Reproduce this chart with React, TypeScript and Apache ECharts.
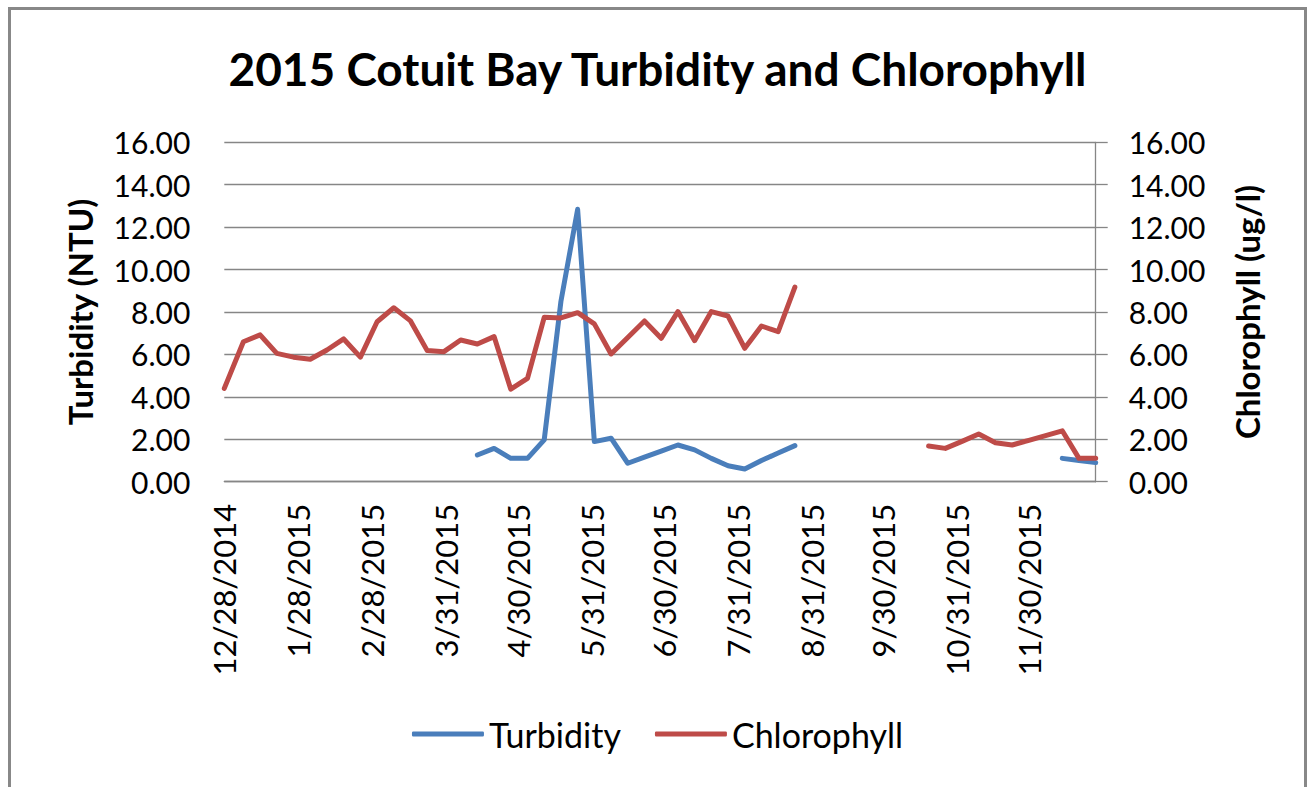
import React, { useEffect, useRef } from "react";
import * as echarts from "echarts";

const dates = [
  "12/28/2014", "1/5/2015", "1/12/2015", "1/19/2015", "1/26/2015", "2/2/2015", "2/9/2015", "2/16/2015", "2/23/2015",
  "3/2/2015", "3/9/2015", "3/16/2015", "3/23/2015", "3/30/2015", "4/6/2015", "4/13/2015", "4/20/2015", "4/27/2015",
  "5/4/2015", "5/11/2015", "5/18/2015", "5/25/2015", "6/1/2015", "6/8/2015", "6/15/2015", "6/22/2015", "6/29/2015",
  "7/6/2015", "7/13/2015", "7/20/2015", "7/27/2015", "8/3/2015", "8/10/2015", "8/17/2015", "8/24/2015", "8/31/2015",
  "9/7/2015", "9/14/2015", "9/21/2015", "9/28/2015", "10/5/2015", "10/12/2015", "10/19/2015", "10/26/2015",
  "11/2/2015", "11/9/2015", "11/16/2015", "11/23/2015", "11/30/2015", "12/7/2015", "12/14/2015", "12/21/2015", "12/28/2015",
];

const turbidity: (number | null)[] = [
  null, null, null, null, null, null, null, null, null,
  null, null, null, null, null, null, 1.26, 1.57, 1.10,
  1.10, 1.97, 8.5, 12.84, 1.89, 2.05, 0.87, 1.16, 1.44,
  1.73, 1.50, 1.10, 0.75, 0.60, 1.00, 1.35, 1.70, null,
  null, null, null, null, null, null, null, null,
  null, null, null, null, null, null, 1.10, 1.00, 0.90,
];

const chlorophyll: (number | null)[] = [
  4.40, 6.60, 6.92, 6.05, 5.87, 5.77, 6.21, 6.73, 5.87,
  7.54, 8.20, 7.58, 6.18, 6.13, 6.68, 6.49, 6.84, 4.36,
  4.87, 7.75, 7.72, 7.97, 7.44, 6.02, 6.80, 7.58, 6.76,
  8.02, 6.65, 8.02, 7.81, 6.29, 7.34, 7.07, 9.17, null,
  null, null, null, null, null, null, 1.68, 1.57,
  1.90, 2.25, 1.84, 1.73, 1.95, 2.17, 2.40, 1.10, 1.10,
];

const tickLabels = [
  "12/28/2014", "1/28/2015", "2/28/2015", "3/31/2015", "4/30/2015", "5/31/2015",
  "6/30/2015", "7/31/2015", "8/31/2015", "9/30/2015", "10/31/2015", "11/30/2015",
];

const yTicks = [0, 2, 4, 6, 8, 10, 12, 14, 16];

const toDay = (s: string) => {
  const [m, d, y] = s.split("/").map(Number);
  return Math.round((Date.UTC(y, m - 1, d) - Date.UTC(2014, 11, 28)) / 86400000);
};

const FONT = "Lato, 'Open Sans', sans-serif";
const GRID = "#868686";

export default function App() {
  const ref = useRef<HTMLDivElement>(null);
  useEffect(() => {
    if (!ref.current) return;
    const chart = echarts.init(ref.current, undefined, { renderer: "svg" });
    const labelDays = tickLabels.map(toDay);
    const labelMap: Record<number, string> = {};
    labelDays.forEach((d, i) => (labelMap[d] = tickLabels[i]));
    const xMax = toDay(dates[dates.length - 1]);
    const yAxisCommon = {
      type: "value",
      min: yTicks[0],
      max: yTicks[yTicks.length - 1],
      interval: yTicks[1] - yTicks[0],
      nameLocation: "middle",
      nameRotate: 90,
      nameTextStyle: { fontFamily: FONT, fontWeight: "bold", fontSize: 33, color: "#000" },
    };
    chart.setOption({
      animation: false,
      backgroundColor: "#fff",
      title: {
        text: "2015 Cotuit Bay Turbidity and Chlorophyll",
        left: "center",
        top: 30,
        textStyle: { fontFamily: FONT, fontWeight: "bold", fontSize: 46, color: "#000" },
      },
      legend: {
        bottom: 38,
        left: "center",
        itemWidth: 72,
        itemHeight: 5,
        itemGap: 34,
        icon: "roundRect",
        textStyle: { fontFamily: FONT, fontSize: 34, color: "#000" },
        data: ["Turbidity", "Chlorophyll"],
      },
      grid: { left: 213.3, top: 132.3, width: 871.4, height: 339.4, containLabel: false },
      xAxis: {
        type: "value",
        min: 0,
        max: xMax,
        axisLine: { show: true, lineStyle: { color: GRID, width: 1.3 } },
        axisTick: { show: false },
        splitLine: { show: false },
        axisLabel: {
          customValues: labelDays,
          rotate: 90,
          margin: 22,
          fontFamily: FONT,
          fontSize: 31,
          color: "#000",
          formatter: (v: number) => labelMap[v] ?? "",
        },
      },
      yAxis: [
        {
          ...yAxisCommon,
          name: "Turbidity (NTU)",
          nameGap: 128,
          position: "left",
          axisLine: { show: false },
          axisTick: { show: false },
          splitLine: { show: true, lineStyle: { color: GRID, width: 1.3 } },
          axisLabel: {
            margin: 34,
            fontFamily: FONT,
            fontSize: 30,
            color: "#000",
            formatter: (v: number) => v.toFixed(2),
          },
        },
        {
          ...yAxisCommon,
          name: "Chlorophyll (ug/l)",
          nameGap: 135,
          position: "right",
          axisLine: { show: true, lineStyle: { color: GRID, width: 1.3 } },
          axisTick: { show: true, length: 12, lineStyle: { color: GRID, width: 1.3 } },
          splitLine: { show: false },
          axisLabel: {
            margin: 33,
            fontFamily: FONT,
            fontSize: 30,
            color: "#000",
            formatter: (v: number) => v.toFixed(2),
          },
        },
      ],
      series: [
        {
          name: "Turbidity",
          type: "line",
          yAxisIndex: 0,
          showSymbol: false,
          symbol: "none",
          connectNulls: false,
          color: "#4A7EBB",
          lineStyle: { color: "#4A7EBB", width: 5, join: "round", cap: "round" },
          data: dates.map((d, i) => [toDay(d), turbidity[i]]),
        },
        {
          name: "Chlorophyll",
          type: "line",
          yAxisIndex: 1,
          showSymbol: false,
          symbol: "none",
          connectNulls: false,
          color: "#BE4B48",
          lineStyle: { color: "#BE4B48", width: 5, join: "round", cap: "round" },
          data: dates.map((d, i) => [toDay(d), chlorophyll[i]]),
        },
      ],
    });
    return () => chart.dispose();
  }, []);
  return (
    <div
      style={{
        position: "fixed",
        left: 8,
        top: 7,
        width: 1299,
        height: 790,
        boxSizing: "border-box",
        border: "3px solid #888",
        background: "#fff",
      }}
    >
      <div ref={ref} style={{ width: "100%", height: "100%" }} />
    </div>
  );
}
